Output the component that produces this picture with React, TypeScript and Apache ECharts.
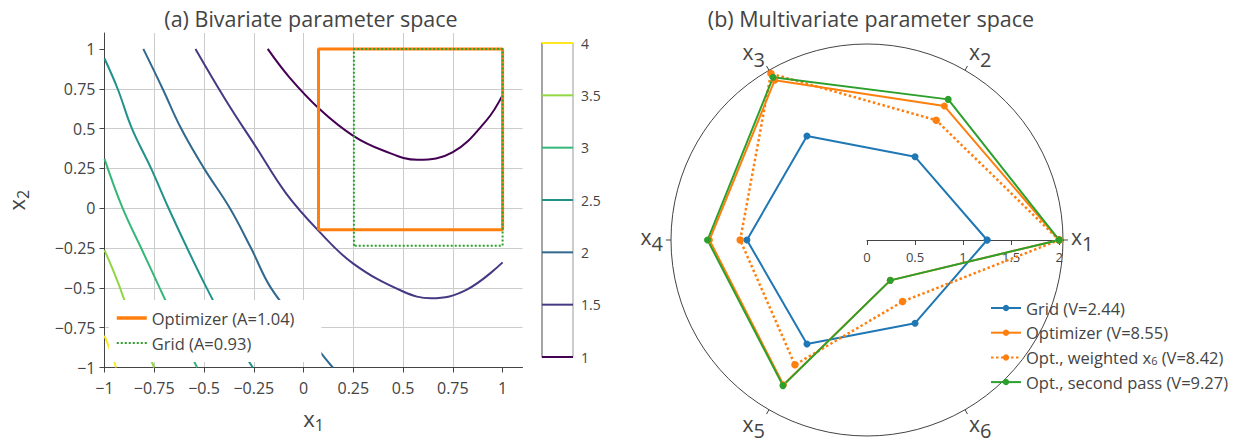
import { useEffect, useRef } from 'react';
import * as echarts from 'echarts';

// ---------- Panel (a): bivariate contour plot ----------
const axisTicksA = [-1, -0.75, -0.5, -0.25, 0, 0.25, 0.5, 0.75, 1];
const contourLevels = [1, 1.5, 2, 2.5, 3, 3.5, 4];
const contourColors = ['#440154', '#443983', '#31688e', '#21918c', '#35b779', '#90d743', '#fde725'];

const contourLevel1 = [[-0.18, 1], [-0.07, 0.82], [0.08, 0.623], [0.248, 0.456], [0.4, 0.3625], [0.574, 0.304], [0.75, 0.352], [0.918, 0.55], [1, 0.71]];
const contourLevel15 = [[-0.543, 1], [-0.389, 0.675], [-0.238, 0.383], [-0.087, 0.092], [0.072, -0.1375], [0.248, -0.346], [0.5, -0.523], [0.642, -0.565], [0.818, -0.5125], [1, -0.34]];
const contourLevel2 = [[-0.805, 1], [-0.708, 0.75], [-0.615, 0.5], [-0.5, 0.25], [-0.37, 0], [-0.264, -0.25], [-0.164, -0.5], [-0.01, -0.75], [0.09, -0.9125], [0.147, -1]];
const contourLevel25 = [[-1, 0.94], [-0.934, 0.75], [-0.862, 0.5], [-0.766, 0.25], [-0.678, 0], [-0.585, -0.25], [-0.487, -0.5], [-0.38, -0.75], [-0.255, -1]];
const contourLevel3 = [[-1, 0.31], [-0.909, 0], [-0.816, -0.25], [-0.723, -0.5], [-0.63, -0.75], [-0.535, -1]];
const contourLevel35 = [[-1, -0.2625], [-0.95, -0.41], [-0.922, -0.5], [-0.9, -0.575], [-0.82, -0.8], [-0.75, -1]];
const contourLevel4 = [[-1, -0.8], [-0.975, -0.88], [-0.955, -0.95], [-0.942, -1]];
const contourLines = [contourLevel1, contourLevel15, contourLevel2, contourLevel25, contourLevel3, contourLevel35, contourLevel4];

// boxes: [xmin, ymin, xmax, ymax]
const optimizerBox = [0.075, -0.135, 1, 1];
const gridBox = [0.253, -0.235, 1, 1];

// ---------- Panel (b): radar / polar ----------
const radarAxisNumbers = ['1', '2', '3', '4', '5', '6'];
const radarAngles = [0, 60, 120, 180, 240, 300];
const radialTicks = [0, 0.5, 1, 1.5, 2];
const gridValues = [1.25, 1, 1.25, 1.25, 1.25, 1];
const optimizerValues = [2, 1.61, 1.92, 1.64, 1.74, 0.485];
const weightedValues = [2, 1.44, 2, 1.32, 1.5, 0.74];
const secondPassValues = [2, 1.69, 1.955, 1.66, 1.75, 0.485];

const C_BLUE = '#1f77b4';
const C_ORANGE = '#ff7f0e';
const C_GREEN = '#2ca02c';
const TXT = '#444';
const FONT = '"Open Sans", sans-serif';

export default function App() {
  const ref = useRef<HTMLDivElement>(null);

  useEffect(() => {
    if (!ref.current) return;
    const chart = echarts.init(ref.current, undefined, { renderer: 'svg' });

    const minus = (v: number) => (v < 0 ? '\u2212' + String(Math.abs(v)) : String(v));
    const boxPath = (b: number[]) => [[b[0], b[1]], [b[0], b[3]], [b[2], b[3]], [b[2], b[1]], [b[0], b[1]]];
    const polarData = (vals: number[]) =>
      vals.map((v, i) => [v, radarAngles[i]]).concat([[vals[0], 360]]);

    const contourSeries = contourLines.map((pts, i) => ({
      type: 'line',
      name: 'level ' + contourLevels[i],
      xAxisIndex: 0,
      yAxisIndex: 0,
      data: pts,
      smooth: 0.4,
      symbol: 'none',
      silent: true,
      lineStyle: { color: contourColors[i], width: 2 },
      z: 2,
    }));

    const colorbarSeries = contourLevels.map((lv, i) => ({
      type: 'line',
      name: 'cb ' + lv,
      xAxisIndex: 1,
      yAxisIndex: 1,
      data: [[0, lv], [1, lv]],
      symbol: 'none',
      clip: false,
      silent: true,
      lineStyle: { color: contourColors[i], width: 2 },
      z: 3,
    }));

    const subRich = (main: number, sub: number, pad: number) => ({
      x: { fontSize: main, color: TXT, fontFamily: FONT },
      s: { fontSize: sub, color: TXT, fontFamily: FONT, padding: [pad, 0, 0, 0] },
    });

    const tok = (fs: number, lh: number, pad: number[]) => ({
      fontSize: fs, color: TXT, fontFamily: FONT, lineHeight: lh, padding: pad,
    });
    const angleRich = {
      xt: tok(21, 22, [0, 0, 0, 0]),
      st: tok(20, 22, [14, 0, 0, 0]),
      xs: tok(21, 22, [0, 0, 7, 0]),
      ss: tok(20, 22, [14, 0, 7, 0]),
      xb: tok(21, 14, [0, 0, 0, 0]),
      sb: tok(20, 14, [14, 0, 0, 0]),
    };
    const angleLabel = (v: number) => {
      const idx = Math.round(v / 60) % 6;
      const k = idx === 0 || idx === 3 ? 's' : idx < 3 ? 't' : 'b';
      return '{x' + k + '|x}{s' + k + '|' + radarAxisNumbers[idx] + '}';
    };

    const option: any = {
      animation: false,
      backgroundColor: '#fff',
      textStyle: { fontFamily: FONT },
      graphic: [
        {
          type: 'text',
          x: 311,
          y: 18,
          style: { text: '(a) Bivariate parameter space', fontSize: 21.5, fontFamily: FONT, fill: TXT, align: 'center', verticalAlign: 'middle', textAlign: 'center', textVerticalAlign: 'middle' },
        },
        {
          type: 'text',
          x: 871,
          y: 18,
          style: { text: '(b) Multivariate parameter space', fontSize: 21.5, fontFamily: FONT, fill: TXT, align: 'center', verticalAlign: 'middle', textAlign: 'center', textVerticalAlign: 'middle' },
        },
      ],
      grid: [
        { left: 104.5, top: 33, width: 418, height: 334.5 },
        { left: 542, top: 43, width: 31, height: 314, show: true, borderColor: '#999', borderWidth: 1, backgroundColor: 'transparent' },
      ],
      xAxis: [
        {
          gridIndex: 0,
          type: 'value',
          min: -1,
          max: 1.1,
          interval: 0.25,
          name: '{x|x}{s|1}',
          nameLocation: 'middle',
          nameGap: 36,
          nameTextStyle: { rich: subRich(22, 16, 13) },
          axisLine: { show: true, onZero: false, lineStyle: { color: TXT, width: 1 } },
          axisTick: { show: true, length: 5, customValues: axisTicksA, lineStyle: { color: TXT } },
          axisLabel: { customValues: axisTicksA, formatter: minus, fontSize: 16, color: TXT, margin: 12 },
          splitLine: { show: true, showMaxLine: false, lineStyle: { color: '#cccccc', width: 1 } },
        },
        { gridIndex: 1, type: 'value', min: 0, max: 1, show: false },
      ],
      yAxis: [
        {
          gridIndex: 0,
          type: 'value',
          min: -1,
          max: 1.1,
          interval: 0.25,
          name: '{x|x}{s|2}',
          nameLocation: 'middle',
          nameGap: 74,
          nameTextStyle: { rich: subRich(22, 16, 13) },
          axisLine: { show: true, onZero: false, lineStyle: { color: TXT, width: 1 } },
          axisTick: { show: true, length: 5, customValues: axisTicksA, lineStyle: { color: TXT } },
          axisLabel: { customValues: axisTicksA, formatter: minus, fontSize: 16, color: TXT, margin: 9 },
          splitLine: { show: true, showMaxLine: false, lineStyle: { color: '#cccccc', width: 1 } },
        },
        {
          gridIndex: 1,
          type: 'value',
          min: 1,
          max: 4,
          interval: 0.5,
          position: 'right',
          axisLine: { show: true, lineStyle: { color: '#999', width: 1.5 } },
          axisTick: { show: true, length: 5, lineStyle: { color: TXT } },
          axisLabel: { fontSize: 14, color: TXT, margin: 8 },
          splitLine: { show: false },
        },
      ],
      polar: { center: [867, 240], radius: 196 },
      angleAxis: {
        type: 'value',
        min: 0,
        max: 360,
        interval: 60,
        startAngle: 0,
        clockwise: false,
        axisLine: { show: true, lineStyle: { color: TXT, width: 1 } },
        axisTick: { show: true, length: 5, lineStyle: { color: TXT } },
        axisLabel: {
          margin: 8,
          formatter: angleLabel,
          rich: angleRich,
        },
        splitLine: { show: false },
        splitArea: { show: false },
      },
      radiusAxis: {
        type: 'value',
        min: 0,
        max: 2.04,
        interval: 0.5,
        axisLine: { show: true, lineStyle: { color: TXT, width: 1 } },
        axisTick: { show: true, length: -5, customValues: radialTicks, lineStyle: { color: TXT } },
        axisLabel: { customValues: radialTicks, margin: -23, fontSize: 13, color: TXT },
        splitLine: { show: false },
        splitArea: { show: false },
        z: 1,
      },
      legend: [
        {
          data: [
            { name: 'Optimizer (A=1.04)', lineStyle: { width: 3.5, color: C_ORANGE } },
            { name: 'Grid (A=0.93)', lineStyle: { width: 2, color: C_GREEN, type: 'dotted' } },
          ],
          orient: 'vertical',
          left: 109,
          top: 300,
          padding: [9, 27, 10, 6],
          itemGap: 7,
          itemWidth: 30,
          itemHeight: 18,
          backgroundColor: '#fff',
          selectedMode: false,
          itemStyle: { opacity: 0, color: 'rgba(0,0,0,0)', borderWidth: 0 },
          textStyle: { fontSize: 16.5, color: TXT, fontFamily: FONT, lineHeight: 18 },
        },
        {
          data: ['Grid (V=2.44)', 'Optimizer (V=8.55)', 'Opt., weighted x6 (V=8.42)', 'Opt., second pass (V=9.27)'],
          orient: 'vertical',
          left: 990,
          top: 299,
          padding: 0,
          itemGap: 6.7,
          itemWidth: 30,
          itemHeight: 8,
          selectedMode: false,
          formatter: (name: string) =>
            name.indexOf('x6') >= 0 ? '{n|Opt., weighted x}{s|6}{n| (V=8.42)}' : name,
          textStyle: {
            fontSize: 16.5,
            color: TXT,
            fontFamily: FONT,
            lineHeight: 18,
            rich: {
              n: { fontSize: 16.5, color: TXT, fontFamily: FONT, lineHeight: 18 },
              s: { fontSize: 11, color: TXT, fontFamily: FONT, lineHeight: 18, padding: [7, 0, 0, 0] },
            },
          },
        },
      ],
      series: [
        ...contourSeries,
        ...colorbarSeries,
        {
          type: 'line',
          name: 'Optimizer (A=1.04)',
          xAxisIndex: 0,
          yAxisIndex: 0,
          data: boxPath(optimizerBox),
          symbol: 'none',
          lineStyle: { color: C_ORANGE, width: 3 },
          itemStyle: { color: C_ORANGE },
          z: 3,
        },
        {
          type: 'line',
          name: 'Grid (A=0.93)',
          xAxisIndex: 0,
          yAxisIndex: 0,
          data: boxPath(gridBox),
          symbol: 'none',
          lineStyle: { color: C_GREEN, width: 2, type: 'dotted' },
          itemStyle: { color: C_GREEN },
          z: 3,
        },
        {
          type: 'line',
          name: 'Grid (V=2.44)',
          coordinateSystem: 'polar',
          polarIndex: 0,
          data: polarData(gridValues),
          symbol: 'circle',
          symbolSize: 7,
          lineStyle: { color: C_BLUE, width: 2 },
          itemStyle: { color: C_BLUE },
          z: 3,
        },
        {
          type: 'line',
          name: 'Optimizer (V=8.55)',
          coordinateSystem: 'polar',
          polarIndex: 0,
          data: polarData(optimizerValues),
          symbol: 'circle',
          symbolSize: 7,
          lineStyle: { color: C_ORANGE, width: 2 },
          itemStyle: { color: C_ORANGE },
          z: 3,
        },
        {
          type: 'line',
          name: 'Opt., weighted x6 (V=8.42)',
          coordinateSystem: 'polar',
          polarIndex: 0,
          data: polarData(weightedValues),
          symbol: 'circle',
          symbolSize: 7.5,
          lineStyle: { color: C_ORANGE, width: 2.5, type: [2.5, 2.5] },
          itemStyle: { color: C_ORANGE },
          z: 3,
        },
        {
          type: 'line',
          name: 'Opt., second pass (V=9.27)',
          coordinateSystem: 'polar',
          polarIndex: 0,
          data: polarData(secondPassValues),
          symbol: 'circle',
          symbolSize: 7,
          lineStyle: { color: C_GREEN, width: 2 },
          itemStyle: { color: C_GREEN },
          z: 3,
        },
      ],
    };

    chart.setOption(option);
    return () => chart.dispose();
  }, []);

  return (
    <div
      ref={ref}
      style={{ position: 'absolute', left: 0, top: 0, width: 1246, height: 444, background: '#fff' }}
    />
  );
}
